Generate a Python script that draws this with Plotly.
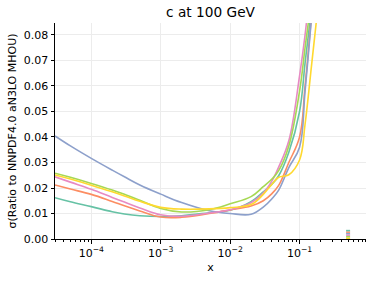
import plotly.graph_objects as go
import numpy as np

x_vals = [3e-5, 5e-5, 1e-4, 2e-4, 3e-4, 5e-4, 1e-3, 2e-3, 5e-3, 1e-2, 2e-2, 3e-2, 4e-2, 5e-2, 7e-2, 0.1, 0.12, 0.15, 0.2]

teal   = [0.0162, 0.0146, 0.0127, 0.0107, 0.0098, 0.0091, 0.0088, 0.0091, 0.0103, 0.0113, 0.0146, 0.0185, 0.0215, 0.0248, 0.0340, 0.050, 0.069, 0.092, 0.13]
orange = [0.0212, 0.0196, 0.0175, 0.0147, 0.0130, 0.0110, 0.0086, 0.0085, 0.0100, 0.0114, 0.0129, 0.0150, 0.0178, 0.0210, 0.0300, 0.040, 0.060, 0.089, 0.13]
blue   = [0.0404, 0.0365, 0.0316, 0.0270, 0.0244, 0.0212, 0.0176, 0.0143, 0.0111, 0.0100, 0.0097, 0.0125, 0.0158, 0.0192, 0.0280, 0.036, 0.058, 0.088, 0.13]
pink   = [0.0244, 0.0223, 0.0195, 0.0163, 0.0145, 0.0122, 0.0095, 0.0089, 0.0102, 0.0115, 0.0142, 0.0180, 0.0228, 0.0282, 0.0385, 0.064, 0.080, 0.105, 0.14]
green  = [0.0258, 0.0242, 0.0218, 0.0192, 0.0175, 0.0152, 0.0120, 0.0106, 0.0115, 0.0138, 0.0166, 0.0205, 0.0235, 0.0268, 0.0365, 0.058, 0.075, 0.096, 0.135]
yellow = [0.0251, 0.0235, 0.0211, 0.0185, 0.0169, 0.0148, 0.0124, 0.0117, 0.0118, 0.0123, 0.0135, 0.0175, 0.0215, 0.0242, 0.0252, 0.031, 0.045, 0.069, 0.10]

series = [("teal", teal, "#66c2a5"), ("orange", orange, "#fc8d62"), ("blue", blue, "#8da0cb"),
          ("pink", pink, "#e78ac3"), ("green", green, "#a6d854"), ("yellow", yellow, "#ffd92f")]

# small stacked stub near x=0.5 (bottom to top)
stub_x = 0.5
stub_order = ["yellow", "green", "pink", "blue", "orange", "teal"]
stub_heights = [0.0006, 0.0006, 0.0006, 0.0006, 0.0006, 0.0006]

x_tickvals = [1e-4, 1e-3, 1e-2, 1e-1]
x_ticktext = ["10<sup>−4</sup>", "10<sup>−3</sup>", "10<sup>−2</sup>", "10<sup>−1</sup>"]
y_tickvals = [0.0, 0.01, 0.02, 0.03, 0.04, 0.05, 0.06, 0.07, 0.08]

fig = go.Figure()
for name, vals, col in series:
    fig.add_trace(go.Scatter(x=x_vals, y=vals, mode="lines", name=name,
                             line=dict(color=col, width=1.6, shape="spline", smoothing=1.1),
                             showlegend=False, hoverinfo="skip"))

colmap = {n: c for n, _, c in series}
base = 0.0
for n, h in zip(stub_order, stub_heights):
    fig.add_trace(go.Scatter(x=[stub_x, stub_x], y=[base, base + h], mode="lines",
                             line=dict(color=colmap[n], width=4), showlegend=False, hoverinfo="skip"))
    base += h

minor_vals = []
for e in range(-5, 1):
    for m in range(2, 10):
        minor_vals.append(m * 10.0 ** e)

fig.update_layout(
    width=374, height=281,
    margin=dict(l=55, r=8, t=23, b=42),
    paper_bgcolor="white", plot_bgcolor="white",
    font=dict(family="DejaVu Sans", size=11, color="black"),
    title=dict(text="c at 100 GeV", x=0.5, xanchor="center", xref="paper",
               y=1 - 12.5 / 281, yref="container", yanchor="middle",
               font=dict(size=13.7, color="black")),
    showlegend=False,
)
fig.update_xaxes(type="log", range=[np.log10(3e-5), -0.043],
                 tickvals=x_tickvals, ticktext=x_ticktext,
                 ticks="outside", ticklen=3.5, tickwidth=1, tickcolor="black",
                 showline=True, linecolor="black", linewidth=1,
                 showgrid=True, gridcolor="#ececec", gridwidth=0.8,
                 zeroline=False,
                 minor=dict(tickvals=minor_vals, ticks="outside", ticklen=2, tickcolor="black", showgrid=False),
                 title=dict(text="x", font=dict(size=11), standoff=4),
                 tickfont=dict(size=11))
fig.update_yaxes(range=[0, 0.0847], tickvals=y_tickvals, tickformat=".2f",
                 ticks="outside", ticklen=3.5, tickwidth=1, tickcolor="black",
                 showline=True, linecolor="black", linewidth=1,
                 showgrid=True, gridcolor="#ececec", gridwidth=0.8,
                 zeroline=False,
                 title=dict(text="σ(Ratio to NNPDF4.0 aN3LO MHOU)", font=dict(size=11), standoff=4),
                 tickfont=dict(size=11))

fig.write_html("out.html", config={"displayModeBar": False},
               post_script="document.body.style.margin='0';")
